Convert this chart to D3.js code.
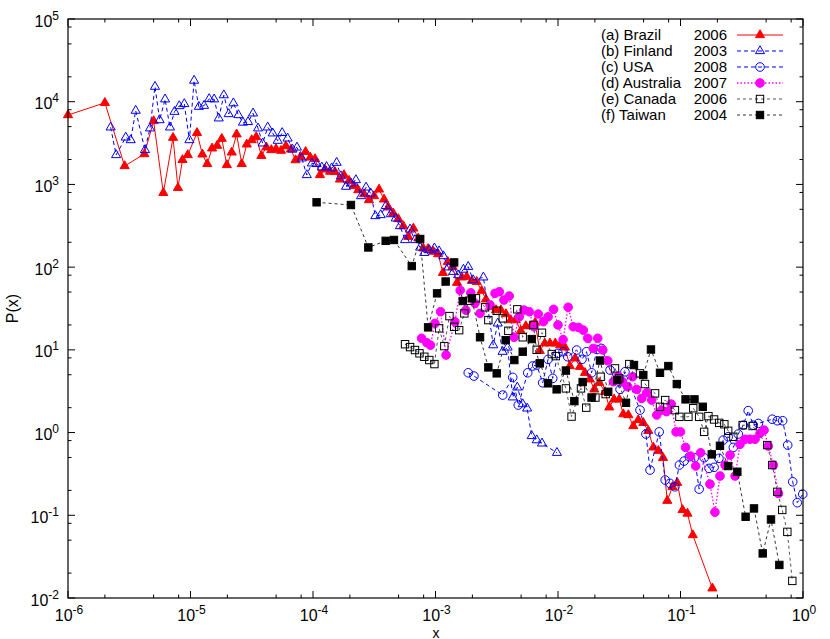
<!DOCTYPE html>
<html>
<head>
<meta charset="utf-8">
<script src="https://cdn.jsdelivr.net/npm/d3@7"></script>
<style>
body { margin: 0; background: #fff; }
text { font-family: "Liberation Sans", Arial, sans-serif; }
</style>
</head>
<body>
<div id="chart"></div>
<script>
// values, [x, P(x)]
const brazil = [[1e-6,6900],[2e-6,9700],[2.9e-6,1670],[4.2e-6,2330],[5.0e-6,5850],[6.0e-6,790],[7.2e-6,3670],[7.9e-6,910],[8.6e-6,1980],[9.5e-6,2270],[1.13e-5,4200],[1.25e-5,2310],[1.37e-5,1770],[1.5e-5,2730],[1.65e-5,2940],[1.8e-5,3570],[1.98e-5,1720],[2.17e-5,2440],[2.38e-5,4040],[2.62e-5,1770],[2.88e-5,3050],[3.16e-5,3440],[3.44e-5,3740],[3.79e-5,2220],[4.16e-5,2810],[4.57e-5,2610],[4.99e-5,2680],[5.48e-5,2560],[6.0e-5,2910],[6.6e-5,2650],[7.2e-5,1970],[7.9e-5,2160],[8.7e-5,2480],[9.5e-5,2120],[1.04e-4,2030],[1.14e-4,1300],[1.25e-4,1520],[1.38e-4,1430],[1.51e-4,1420],[1.66e-4,1150],[1.79e-4,1300],[1.97e-4,1110],[2.16e-4,960],[2.34e-4,855],[2.61e-4,765],[2.86e-4,648],[3.15e-4,724],[3.46e-4,870],[3.8e-4,660],[4.12e-4,528],[4.52e-4,448],[4.97e-4,382],[5.46e-4,314],[6.0e-4,233],[6.6e-4,294],[7.24e-4,223],[7.95e-4,169],[8.7e-4,166],[9.6e-4,154],[1.05e-3,144],[1.15e-3,85.5],[1.26e-3,116],[1.38e-3,101],[1.5e-3,64.8],[1.64e-3,75.3],[1.8e-3,76.6],[1.98e-3,68.5],[2.17e-3,66.6],[2.38e-3,51.9],[2.58e-3,40.8],[2.84e-3,33.2],[3.12e-3,30.3],[3.42e-3,30.3],[3.76e-3,27.1],[4.11e-3,22.9],[4.52e-3,22.9],[4.97e-3,17.0],[5.46e-3,19.4],[6.0e-3,19.4],[6.5e-3,21.3],[7.1e-3,9.75],[7.8e-3,12.0],[8.6e-3,12.0],[9.5e-3,12.0],[1.04e-2,11.4],[1.14e-2,10.7],[1.25e-2,6.37],[1.38e-2,7.9],[1.51e-2,6.25],[1.66e-2,5.28],[1.82e-2,4.4],[1.98e-2,3.33],[2.17e-2,4.0],[2.42e-2,3.11],[2.62e-2,2.02],[2.87e-2,2.52],[3.16e-2,2.52],[3.41e-2,1.67],[3.75e-2,1.63],[4.12e-2,1.2],[4.52e-2,1.42],[4.97e-2,1.31],[5.46e-2,1.05],[6.0e-2,0.662],[6.6e-2,0.603],[7.2e-2,0.495],[7.8e-2,0.15],[8.6e-2,0.221],[9.4e-2,0.247],[0.104,0.116],[0.114,0.105],[0.126,0.0577],[0.182,0.0131]];

const finland = [[2.23e-6,4900],[2.47e-6,2270],[2.96e-6,3700],[3.25e-6,3440],[3.57e-6,7800],[4.25e-6,2610],[4.67e-6,4770],[5.13e-6,15200],[5.6e-6,6000],[6.2e-6,10700],[6.8e-6,4900],[7.4e-6,7570],[8.1e-6,8870],[8.9e-6,9400],[9.8e-6,3440],[1.07e-5,18000],[1.17e-5,8700],[1.29e-5,8950],[1.42e-5,10800],[1.56e-5,10700],[1.7e-5,6300],[1.87e-5,12000],[2.05e-5,7100],[2.24e-5,9600],[2.46e-5,6900],[2.68e-5,5600],[2.95e-5,5700],[3.24e-5,7240],[3.56e-5,4770],[3.88e-5,3140],[4.27e-5,4900],[4.69e-5,4150],[5.15e-5,3380],[5.6e-5,4200],[6.2e-5,3600],[6.8e-5,2650],[7.4e-5,2800],[8.1e-5,2070],[8.9e-5,1300],[9.8e-5,1800],[1.07e-4,1770],[1.18e-4,1610],[1.29e-4,1630],[1.42e-4,1570],[1.56e-4,1830],[1.69e-4,1260],[1.86e-4,940],[2.04e-4,1030],[2.24e-4,1130],[2.47e-4,724],[2.71e-4,920],[2.96e-4,780],[3.23e-4,415],[3.57e-4,427],[3.93e-4,550],[4.31e-4,438],[4.73e-4,389],[5.13e-4,314],[5.64e-4,213],[6.2e-4,286],[6.8e-4,213],[7.5e-4,173],[8.1e-4,149],[8.9e-4,161],[9.8e-4,169],[1.07e-3,156],[1.16e-3,136],[1.27e-3,99.5],[1.4e-3,88],[1.53e-3,80],[1.69e-3,93.5],[1.85e-3,101],[2.03e-3,69.8],[2.46e-3,75.3],[2.96e-3,11.4],[3.22e-3,20.9],[3.53e-3,9.5],[3.88e-3,10.7],[4.27e-3,2.67],[4.65e-3,3.52],[5.15e-3,2.21],[5.6e-3,1.96],[6.1e-3,0.91],[6.7e-3,0.81],[7.4e-3,0.74],[9.8e-3,0.57]];

const usa = [[1.85e-3,5.28],[2.06e-3,4.82],[3.54e-3,2.84],[4.27e-3,4.65],[4.74e-3,2.15],[5.66e-3,5.28],[6.2e-3,6.37],[6.7e-3,6.55],[7.5e-3,4.0],[8.3e-3,7.67],[9.06e-3,4.52],[1.0e-2,9.08],[1.1e-2,9.5],[1.2e-2,8.25],[1.42e-2,9.95],[1.57e-2,7.67],[1.71e-2,9.5],[1.88e-2,5.28],[2.08e-2,10.1],[2.27e-2,10.4],[2.66e-2,5.7],[3.21e-2,3.33],[3.52e-2,5.43],[4.67e-2,1.87],[5.22e-2,0.96],[5.64e-2,0.352],[6.7e-2,1.02],[7.5e-2,0.267],[8.2e-2,0.243],[9.0e-2,0.221],[9.8e-2,0.405],[0.107,0.452],[0.118,0.51],[0.13,0.496],[0.142,0.207],[0.156,0.496],[0.171,0.369],[0.188,0.38],[0.206,0.488],[0.223,0.81],[0.245,0.89],[0.27,0.662],[0.296,0.96],[0.326,1.23],[0.357,1.84],[0.393,1.23],[0.432,1.29],[0.561,1.45],[0.617,1.39],[0.682,1.39],[0.75,0.706],[0.824,0.254],[0.898,0.142],[0.995,0.18]];

const australia = [[7.7e-4,13.8],[8.5e-4,12.2],[9.1e-4,11.4],[9.9e-4,20.9],[1.1e-3,28.9],[1.22e-3,8.65],[1.44e-3,21.9],[1.59e-3,52.4],[1.77e-3,30.1],[1.94e-3,49],[2.1e-3,36.5],[2.31e-3,27.6],[2.79e-3,34.8],[3.06e-3,48.2],[3.32e-3,50.5],[3.62e-3,40],[4.0e-3,44.8],[4.37e-3,14.2],[4.83e-3,25.1],[5.27e-3,30.3],[5.83e-3,28.9],[6.37e-3,19.0],[6.9e-3,27.1],[7.6e-3,21.9],[8.3e-3,25.1],[9.2e-3,30.9],[1.0e-2,20.0],[1.1e-2,13.3],[1.21e-2,32.7],[1.33e-2,19.0],[1.47e-2,18.7],[1.61e-2,17.3],[1.75e-2,13.8],[1.94e-2,10.4],[2.11e-2,13.8],[2.32e-2,9.95],[2.55e-2,7.38],[2.83e-2,4.11],[3.1e-2,4.82],[3.37e-2,4.11],[3.71e-2,3.58],[4.07e-2,4.73],[4.39e-2,3.33],[4.82e-2,2.59],[5.3e-2,3.03],[5.82e-2,2.47],[6.4e-2,1.63],[7.0e-2,1.87],[7.7e-2,1.79],[8.4e-2,2.21],[9.2e-2,1.02],[0.1,1.02],[0.11,0.662],[0.121,0.52],[0.133,0.394],[0.146,0.57],[0.174,0.238],[0.191,0.109],[0.21,0.298],[0.231,0.405],[0.254,0.535],[0.279,0.298],[0.306,0.72],[0.336,0.83],[0.369,0.83],[0.406,0.83],[0.446,0.98],[0.481,1.07],[0.521,0.687],[0.573,0.405],[0.63,0.184]];

const canada = [[5.64e-4,11.7],[6.2e-4,10.8],[6.8e-4,9.95],[7.4e-4,9.08],[8.1e-4,8.25],[8.9e-4,7.53],[9.8e-4,6.73],[1.07e-3,18.2],[1.18e-3,11.1],[1.3e-3,25.6],[1.42e-3,19.0],[1.56e-3,17.3],[1.72e-3,27.6],[1.89e-3,39.3],[2.14e-3,42.0],[2.54e-3,32.7],[2.7e-3,22.9],[3.16e-3,29.7],[3.54e-3,24.0],[3.93e-3,17.0],[4.65e-3,30.9],[5.15e-3,14.2],[6.3e-3,20.0],[6.7e-3,10.0],[7.4e-3,16.1],[8.9e-3,8.9],[9.6e-3,8.4],[1.16e-2,3.42],[1.29e-2,1.56],[1.54e-2,3.42],[1.7e-2,2.0],[2.02e-2,2.65],[2.23e-2,4.73],[2.45e-2,2.92],[2.92e-2,5.97],[3.16e-2,4.52],[3.82e-2,6.73],[4.67e-2,5.2],[5.13e-2,3.86],[6.2e-2,2.98],[6.8e-2,2.05],[7.5e-2,2.47],[9.0e-2,1.87],[9.8e-2,1.55],[0.116,1.55],[0.127,1.97],[0.142,1.55],[0.156,1.02],[0.169,1.58],[0.188,1.44],[0.207,1.31],[0.228,1.26],[0.245,1.05],[0.27,0.89],[0.322,1.23],[0.388,1.2],[0.511,0.706],[0.561,0.405],[0.617,0.192],[0.677,0.116],[0.745,0.063],[0.818,0.0161]];

const taiwan = [[1.07e-4,608],[2.04e-4,564],[2.83e-4,173],[3.92e-4,208],[4.58e-4,213],[6.4e-4,103],[7.5e-4,219],[8.7e-4,18.7],[1.03e-3,48.2],[1.21e-3,67.0],[1.42e-3,114],[1.67e-3,38.9],[1.98e-3,42.0],[2.31e-3,14.2],[2.7e-3,6.14],[3.16e-3,5.2],[3.74e-3,13.1],[4.4e-3,7.53],[5.15e-3,9.5],[6.1e-3,13.5],[7.1e-3,6.87],[8.3e-3,3.94],[9.75e-3,3.33],[1.16e-2,5.62],[1.36e-2,2.4],[1.59e-2,4.08],[1.88e-2,2.65],[2.2e-2,7.43],[2.57e-2,3.11],[3.05e-2,4.31],[3.59e-2,2.29],[4.17e-2,6.55],[4.97e-2,4.96],[5.74e-2,10.1],[6.8e-2,5.28],[7.96e-2,6.37],[9.33e-2,3.86],[0.110,2.52],[0.130,2.52],[0.152,2.05],[0.18,0.545],[0.21,0.692],[0.245,0.394],[0.291,0.336],[0.34,0.096],[0.398,0.121],[0.469,0.0346],[0.548,0.089],[0.641,0.0251]];

const names = ["(a) Brazil", "(b) Finland", "(c) USA", "(d) Australia", "(e) Canada", "(f) Taiwan"];
const years = ["2006", "2003", "2008", "2007", "2006", "2004"];
const xExponents = [-6, -5, -4, -3, -2, -1, 0];
const yExponents = [-2, -1, 0, 1, 2, 3, 4, 5];
const minorSteps = [2, 5, 8];

const series = [
    {data: brazil, color: "#ff0000", dash: null, marker: "tri", filled: true},
    {data: finland, color: "#0000ff", dash: "4,3", marker: "tri", filled: false},
    {data: usa, color: "#0000ff", dash: "4,3", marker: "circle", filled: false},
    {data: australia, color: "#ff00ff", dash: "1.5,2", marker: "circle", filled: true},
    {data: canada, color: "#000", line: "#555", dash: "3,3", marker: "square", filled: false},
    {data: taiwan, color: "#000", line: "#333", dash: "3,3", marker: "square", filled: true}
];

const width = 830, height = 639;
const plotLeft = 68, plotRight = 803, plotTop = 19, plotBottom = 598;

const svg = d3.select("#chart")
              .append("svg")
              .attr("width", width)
              .attr("height", height);

const xScale = d3.scaleLog().domain([1e-6, 1]).range([plotLeft, plotRight]);
const yScale = d3.scaleLog().domain([1e-2, 1e5]).range([plotBottom, plotTop]);

// ticks, mirrored on all four sides, pointing inward
const xMajor = xExponents.map(k => Math.pow(10, k));
const yMajor = yExponents.map(k => Math.pow(10, k));
const xMinor = xExponents.slice(0, -1).flatMap(k => minorSteps.map(m => m * Math.pow(10, k)));
const yMinor = yExponents.slice(0, -1).flatMap(k => minorSteps.map(m => m * Math.pow(10, k)));

const ticks = svg.append("g").attr("stroke", "#000").attr("stroke-width", 1);
const xTicks = xMajor.map(v => ({v, len: 7})).concat(xMinor.map(v => ({v, len: 3.5})));
const yTicks = yMajor.map(v => ({v, len: 7})).concat(yMinor.map(v => ({v, len: 3.5})));

xTicks.forEach(t => {
    const x = xScale(t.v);
    ticks.append("line").attr("x1", x).attr("x2", x).attr("y1", plotBottom).attr("y2", plotBottom - t.len);
    ticks.append("line").attr("x1", x).attr("x2", x).attr("y1", plotTop).attr("y2", plotTop + t.len);
});
yTicks.forEach(t => {
    const y = yScale(t.v);
    ticks.append("line").attr("x1", plotLeft).attr("x2", plotLeft + t.len).attr("y1", y).attr("y2", y);
    ticks.append("line").attr("x1", plotRight).attr("x2", plotRight - t.len).attr("y1", y).attr("y2", y);
});

// tick labels 10^k
xExponents.forEach(k => {
    const t = svg.append("text")
                 .attr("x", xScale(Math.pow(10, k)) + 1)
                 .attr("y", 621)
                 .attr("text-anchor", "middle")
                 .style("font-size", "16px");
    t.append("tspan").text("10");
    t.append("tspan").attr("dy", -7).style("font-size", "12px").text(k);
});
yExponents.forEach(k => {
    const t = svg.append("text")
                 .attr("x", 59)
                 .attr("y", yScale(Math.pow(10, k)) + 7.5)
                 .attr("text-anchor", "end")
                 .style("font-size", "16px");
    t.append("tspan").text("10");
    t.append("tspan").attr("dy", -7).style("font-size", "12px").text(k);
});

svg.append("text")
   .attr("x", 436)
   .attr("y", 637.5)
   .attr("text-anchor", "middle")
   .style("font-size", "14px")
   .text("x");

svg.append("text")
   .attr("transform", `translate(18, ${(plotTop + plotBottom) / 2}) rotate(-90)`)
   .attr("text-anchor", "middle")
   .style("font-size", "16px")
   .text("P(x)");

const drawMarker = (g, s, x, y) => {
    const fill = s.filled ? s.color : "none";
    if (s.marker === "tri") {
        g.append("path")
         .attr("d", d3.symbol().type(d3.symbolTriangle).size(36)())
         .attr("transform", `translate(${x},${y})`)
         .attr("fill", fill)
         .attr("stroke", s.color)
         .attr("stroke-width", 1);
    } else if (s.marker === "circle") {
        g.append("circle")
         .attr("cx", x).attr("cy", y).attr("r", 4.3)
         .attr("fill", fill)
         .attr("stroke", s.color)
         .attr("stroke-width", 1);
    } else {
        g.append("rect")
         .attr("x", x - 3.7).attr("y", y - 3.7)
         .attr("width", 7.4).attr("height", 7.4)
         .attr("fill", fill)
         .attr("stroke", s.color)
         .attr("stroke-width", 1);
    }
};

const line = d3.line()
               .x(d => xScale(d[0]))
               .y(d => yScale(d[1]));

series.forEach((s, i) => {
    const g = svg.append("g");
    g.append("path")
     .attr("d", line(s.data))
     .attr("fill", "none")
     .attr("stroke", s.line || s.color)
     .attr("stroke-width", s.marker === "circle" && s.filled ? 1.3 : 1)
     .attr("stroke-dasharray", s.dash);
    s.data.forEach(d => drawMarker(g, s, xScale(d[0]), yScale(d[1])));

    // legend row
    const ly = 35 + i * 16;
    g.append("text")
     .attr("x", 601).attr("y", ly + 5)
     .style("font-size", "15px")
     .text(names[i]);
    g.append("text")
     .attr("x", 727).attr("y", ly + 5)
     .attr("text-anchor", "end")
     .style("font-size", "15px")
     .text(years[i]);
    g.append("line")
     .attr("x1", 737).attr("x2", 783)
     .attr("y1", ly).attr("y2", ly)
     .attr("stroke", s.line || s.color)
     .attr("stroke-width", s.marker === "circle" && s.filled ? 1.3 : 1)
     .attr("stroke-dasharray", s.dash);
    drawMarker(g, s, 760, ly);
});

// frame
svg.append("rect")
   .attr("x", plotLeft).attr("y", plotTop)
   .attr("width", plotRight - plotLeft).attr("height", plotBottom - plotTop)
   .attr("fill", "none")
   .attr("stroke", "#000")
   .attr("stroke-width", 1.2);
</script>
</body>
</html>
